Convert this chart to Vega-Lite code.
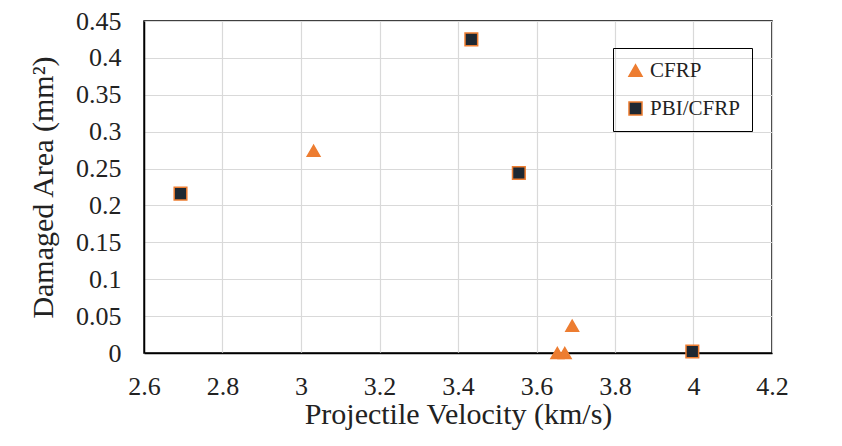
{
  "$schema": "https://vega.github.io/schema/vega-lite/v6.json",
  "width": 628,
  "height": 332,
  "autosize": {"type": "none"},
  "padding": {"left": 144, "top": 21, "right": 70, "bottom": 93},
  "background": "white",
  "config": {
    "view": {"stroke": "black", "strokeWidth": 1.5},
    "font": "Liberation Serif",
    "axis": {"labelFont": "Liberation Serif", "labelFontSize": 26, "labelColor": "#222"}
  },
  "data": {
    "values": [
      {"v": 2.693, "a": 0.216, "s": "PBI/CFRP"},
      {"v": 3.032, "a": 0.274, "s": "CFRP"},
      {"v": 3.434, "a": 0.425, "s": "PBI/CFRP"},
      {"v": 3.555, "a": 0.244, "s": "PBI/CFRP"},
      {"v": 3.653, "a": 0.0, "s": "CFRP"},
      {"v": 3.672, "a": 0.0, "s": "CFRP"},
      {"v": 3.691, "a": 0.037, "s": "CFRP"},
      {"v": 3.997, "a": 0.002, "s": "PBI/CFRP"}
    ]
  },
  "mark": {"type": "point", "filled": true, "opacity": 1, "stroke": "#ED7D31", "strokeWidth": 1.5},
  "encoding": {
    "x": {
      "field": "v", "type": "quantitative",
      "scale": {"domain": [2.6, 4.2], "nice": false, "zero": false},
      "axis": {"values": [2.6, 2.8, 3.0, 3.2, 3.4, 3.6, 3.8, 4.0, 4.2], "labelFont": "Liberation Serif", "labelFontSize": 26, "labelColor": "#222", "labelPadding": 20, "titleFont": "Liberation Serif", "titleFontSize": 30, "titleFontWeight": "normal", "titleColor": "#222", "titlePadding": 0, "title": "Projectile Velocity (km/s)", "format": "~g", "ticks": false, "gridColor": "#d9d9d9", "gridWidth": 1.2, "domainColor": "black", "domainWidth": 1.5, "labelFlush": false, "labelOverlap": false}
    },
    "y": {
      "field": "a", "type": "quantitative",
      "scale": {"domain": [0, 0.45], "nice": false},
      "axis": {"values": [0, 0.05, 0.1, 0.15, 0.2, 0.25, 0.3, 0.35, 0.4, 0.45], "labelFont": "Liberation Serif", "labelFontSize": 26, "labelColor": "#222", "labelPadding": 23, "titleFont": "Liberation Serif", "titleFontSize": 30, "titleFontWeight": "normal", "titleColor": "#222", "titlePadding": 17, "title": "Damaged Area (mm²)", "format": "~g", "ticks": false, "gridColor": "#d9d9d9", "gridWidth": 1.2, "domainColor": "black", "domainWidth": 1.5, "labelOverlap": false}
    },
    "shape": {
      "field": "s", "type": "nominal",
      "scale": {"domain": ["CFRP", "PBI/CFRP"], "range": ["triangle-up", "square"]},
      "legend": null
    },
    "color": {
      "field": "s", "type": "nominal",
      "scale": {"domain": ["CFRP", "PBI/CFRP"], "range": ["#ED7D31", "#1E2832"]},
      "legend": {
        "title": null,
        "orient": "none",
        "legendX": 469,
        "legendY": 27,
        "direction": "vertical",
        "strokeColor": "black",
        "padding": 12,
        "labelFont": "Liberation Serif",
        "labelFontSize": 21,
        "labelColor": "#222",
        "rowPadding": 16,
        "symbolSize": 170,
        "symbolStrokeColor": "#ED7D31",
        "symbolStrokeWidth": 1.5,
        "symbolOpacity": 1,
        "labelOffset": 4
      }
    },
    "size": {"value": 160}
  }
}
